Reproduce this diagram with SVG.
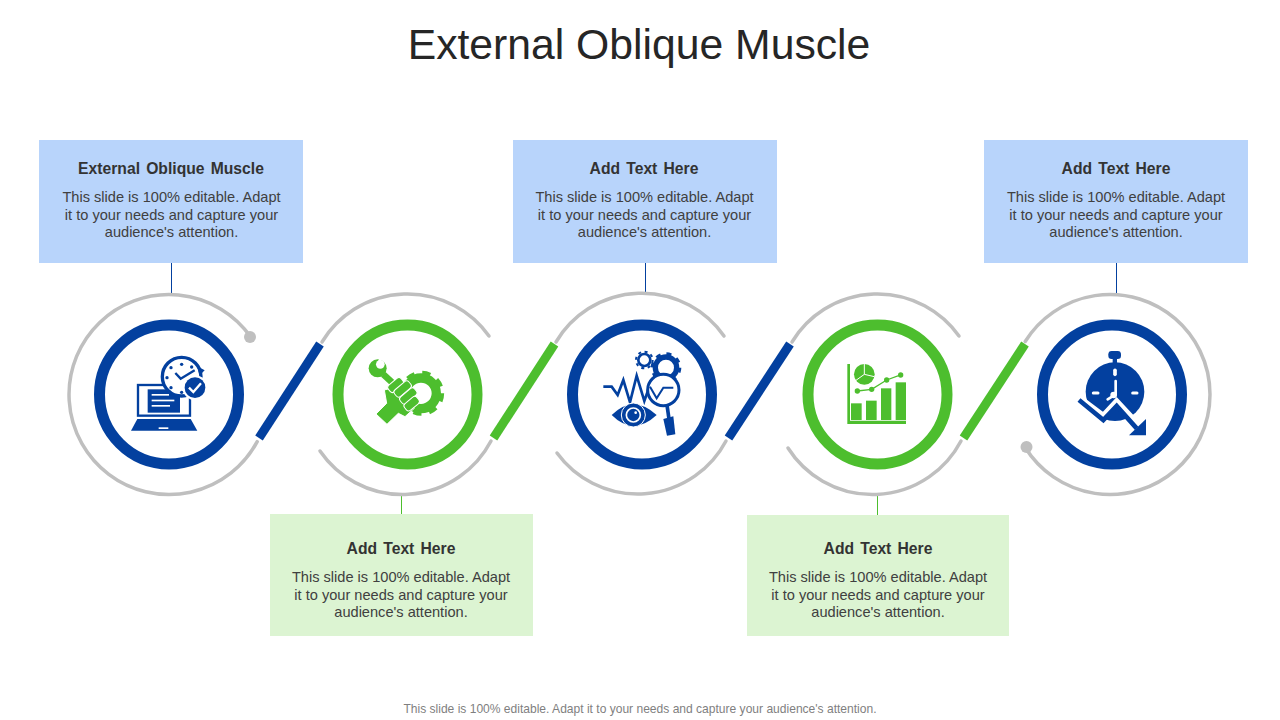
<svg xmlns="http://www.w3.org/2000/svg" width="1280" height="720" viewBox="0 0 1280 720">
<style>
text{font-family:"Liberation Sans",Arial,sans-serif;text-anchor:middle}
.title{font-size:42.700px;fill:#262626}
.h{font-size:15.700px;font-weight:bold;fill:#333;word-spacing:1.800px}
.b{font-size:14.600px;fill:#404040}
.foot{font-size:12.060px;fill:#7f7f7f}
.arc{fill:none;stroke:#bfbfbf;stroke-width:3.500;stroke-linecap:round}
.dot{fill:#bfbfbf}
.lb{fill:#b8d4fb}.lg{fill:#dcf4d2}
.rb{fill:#fff;stroke:#03409f;stroke-width:11}
.rg{fill:#fff;stroke:#4dbe2e;stroke-width:11}
.sb{stroke:#03409f;stroke-width:9;fill:none}
.sg{stroke:#4dbe2e;stroke-width:9;fill:none}
.cb{stroke:#03409f;stroke-width:1;fill:none}
.cg{stroke:#4dbe2e;stroke-width:1;fill:none}
.ib{fill:#03409f}.ig{fill:#4dbe2e}
.w{fill:#fff}
</style>
<text class="title" x="639" y="59">External Oblique Muscle</text>
<g id="connectors">
<path class="cb" d="M171.500 263V293"/><path class="cb" d="M645.500 263V293"/><path class="cb" d="M1116.500 263V293"/>
<path class="cg" d="M401.500 495V514"/><path class="cg" d="M877.500 495V515"/>
<path class="arc" d="M250.800 337A100 100 0 1 0 257.200 441.700"/>
<path class="arc" d="M322 342A100 100 0 0 1 489 336"/>
<path class="arc" d="M320 451A100 100 0 0 0 491 441"/>
<path class="arc" d="M556 342A100 100 0 0 1 724 336"/>
<path class="arc" d="M557 453A100 100 0 0 0 726 441"/>
<path class="arc" d="M792 342A100 100 0 0 1 959 336"/>
<path class="arc" d="M788 448A100 100 0 0 0 961 441"/>
<path class="arc" d="M1025.200 341.500A100 100 0 1 1 1025.200 447.500"/>
<circle class="dot" cx="250" cy="337" r="6"/>
<circle class="dot" cx="1026.500" cy="447" r="6"/>
<path class="sb" d="M320 344L259 438"/>
<path class="sg" d="M554.500 344L493.500 438"/>
<path class="sb" d="M790 344L728.500 438"/>
<path class="sg" d="M1025 344L963.500 438"/>
</g>
<g id="box1"><rect class="lb" x="39" y="140" width="264" height="123"/>
<text class="h" x="171" y="174">External Oblique Muscle</text>
<text class="b" x="171.500" y="202">This slide is 100% editable.  Adapt</text><text class="b" x="171.500" y="220">it to your needs and capture your</text><text class="b" x="171.500" y="237">audience's attention.</text></g>
<g id="box2"><rect class="lg" x="270" y="514" width="263" height="122"/>
<text class="h" x="401" y="554">Add Text Here</text>
<text class="b" x="401" y="582">This slide is 100% editable.  Adapt</text><text class="b" x="401" y="600">it to your needs and capture your</text><text class="b" x="401" y="617">audience's attention.</text></g>
<g id="box3"><rect class="lb" x="513" y="140" width="264" height="123"/>
<text class="h" x="644" y="174">Add Text Here</text>
<text class="b" x="644.500" y="202">This slide is 100% editable.  Adapt</text><text class="b" x="644.500" y="220">it to your needs and capture your</text><text class="b" x="644.500" y="237">audience's attention.</text></g>
<g id="box4"><rect class="lg" x="747" y="515" width="262" height="121"/>
<text class="h" x="878" y="554">Add Text Here</text>
<text class="b" x="878" y="582">This slide is 100% editable.  Adapt</text><text class="b" x="878" y="600">it to your needs and capture your</text><text class="b" x="878" y="617">audience's attention.</text></g>
<g id="box5"><rect class="lb" x="984" y="140" width="264" height="123"/>
<text class="h" x="1116" y="174">Add Text Here</text>
<text class="b" x="1116" y="202">This slide is 100% editable.  Adapt</text><text class="b" x="1116" y="220">it to your needs and capture your</text><text class="b" x="1116" y="237">audience's attention.</text></g>

<g id="node1"><circle class="rb" cx="169" cy="394.500" r="69.500"/>
<g transform="translate(120 345) scale(.3333)">
<rect x="54" y="120" width="156" height="92" fill="none" stroke="#03409f" stroke-width="7"/>
<rect class="ib" x="83" y="133" width="97" height="70"/>
<rect class="w" x="95" y="147" width="52" height="5"/><rect class="w" x="95" y="164" width="68" height="5"/><rect class="w" x="95" y="180" width="55" height="5"/>
<path class="ib" d="M33 257L52 222H212L232 257Z"/><rect class="w" x="116" y="247" width="29" height="5"/>
<circle cx="185" cy="95" r="58" fill="#fff" stroke="#03409f" stroke-width="10"/>
<path class="ib" d="M232 64L254 76L238 92Z"/>
<g class="ib"><circle cx="185" cy="58" r="5"/><circle cx="185" cy="142" r="5"/><circle cx="141" cy="98" r="5"/><circle cx="153" cy="68" r="5"/><circle cx="153" cy="128" r="5"/><circle cx="215" cy="66" r="5"/></g>
<path d="M166 84L182 101L224 76" fill="none" stroke="#03409f" stroke-width="7"/>
<circle cx="225" cy="128" r="37" fill="#fff"/><circle class="ib" cx="225" cy="128" r="31"/>
<path d="M207 128L220 141L243 115" fill="none" stroke="#fff" stroke-width="7"/>
</g></g>

<g id="node2"><circle class="rg" cx="407.500" cy="394.500" r="69.500"/>
<g transform="translate(355 345) scale(.3333)">
<circle cx="198" cy="145" r="46" fill="none" stroke="#4dbe2e" stroke-width="28"/>
<circle cx="200" cy="145" r="60" fill="none" stroke="#4dbe2e" stroke-width="15" stroke-dasharray="24 23.120"/>
<path d="M85 88L125 125" stroke="#4dbe2e" stroke-width="20"/>
<circle class="ig" cx="68" cy="70" r="27"/>
<circle class="w" cx="76" cy="58" r="13"/><path class="w" d="M68 52L84 44L100 30L80 25Z"/>
<path class="ig" stroke="#fff" stroke-width="3" d="M88 135L125 125L178 190L150 215L130 205L96 238L63 207L95 175Z"/>
<g fill="#4dbe2e" stroke="#fff" stroke-width="3">
<rect x="97" y="107" width="50" height="26" rx="9" transform="rotate(-40 122 120)"/>
<rect x="115" y="119" width="56" height="26" rx="9" transform="rotate(-40 143 132)"/>
<rect x="132" y="140" width="56" height="26" rx="9" transform="rotate(-40 160 153)"/>
<rect x="146" y="163" width="48" height="26" rx="9" transform="rotate(-40 170 176)"/>
</g>
</g></g>

<g id="node3"><circle class="rb" cx="642" cy="394.500" r="69.500"/>
<g transform="translate(595 345) scale(.3333)">
<circle cx="148" cy="45" r="18" fill="none" stroke="#03409f" stroke-width="8"/>
<circle cx="148" cy="45" r="25" fill="none" stroke="#03409f" stroke-width="6" stroke-dasharray="9 10.630"/>
<circle cx="213" cy="68" r="32" fill="none" stroke="#03409f" stroke-width="16"/>
<circle cx="213" cy="68" r="42" fill="none" stroke="#03409f" stroke-width="8" stroke-dasharray="15 18"/>
<path d="M25 125H50L68 150L85 105L105 172L125 92L148 168L165 120" fill="none" stroke="#03409f" stroke-width="8"/>
<circle cx="205" cy="135" r="47" fill="#fff" stroke="#03409f" stroke-width="9"/>
<path d="M165 125L185 160L205 128H235" fill="none" stroke="#03409f" stroke-width="6"/>
<path d="M216 180L222 222" stroke="#03409f" stroke-width="11"/>
<path class="ib" d="M205 222L235 214L241 268L216 272Z"/>
<path class="ib" d="M50 210Q115 145 185 210Q115 275 50 210Z"/>
<circle cx="115" cy="210" r="36" fill="#03409f" stroke="#fff" stroke-width="3"/>
<circle cx="115" cy="210" r="21" fill="#03409f" stroke="#fff" stroke-width="5"/><circle class="w" cx="122" cy="203" r="4"/>
</g></g>

<g id="node4"><circle class="rg" cx="877.500" cy="394.500" r="69.500"/>
<g transform="translate(830 345) scale(.3333)">
<path class="ig" d="M52 57H60V227H228V237H52Z"/>
<rect class="ig" x="63" y="175" width="32" height="50"/><rect class="ig" x="108" y="167" width="32" height="58"/><rect class="ig" x="153" y="130" width="31" height="95"/><rect class="ig" x="197" y="112" width="31" height="113"/>
<path d="M82 138L125 133L170 105L212 90" fill="none" stroke="#4dbe2e" stroke-width="4"/>
<g class="ig"><circle cx="82" cy="138" r="8"/><circle cx="125" cy="133" r="8"/><circle cx="170" cy="105" r="8"/><circle cx="212" cy="90" r="8"/><circle cx="103" cy="88" r="31"/></g>
<path d="M103 57V88L133 95M103 88L78 106" fill="none" stroke="#fff" stroke-width="3"/>
</g></g>

<g id="node5"><circle class="rb" cx="1112" cy="394.500" r="69.500"/>
<g transform="translate(1065 345) scale(.3333)">
<rect class="ib" x="130" y="18" width="38" height="24" rx="10"/><rect class="ib" x="143" y="38" width="13" height="20"/>
<circle class="ib" cx="150" cy="140" r="88"/>
<g stroke="#fff" stroke-linecap="round" fill="none">
<path d="M150 76V88" stroke-width="11"/><path d="M85 144H99" stroke-width="9"/><path d="M203 144H216" stroke-width="9"/>
<path d="M152 108V148L128 163" stroke-width="8"/>
</g>
<circle class="w" cx="146" cy="150" r="10"/>
<path d="M42 160L115 215L155 172L218 240" fill="none" stroke="#fff" stroke-width="22"/>
<path d="M42 165L115 225L155 183L215 250" fill="none" stroke="#03409f" stroke-width="14"/>
<path class="ib" d="M243 222V271H192Z"/>
</g></g>

<text class="foot" x="640" y="713">This slide is 100% editable. Adapt it to your needs and capture your audience's attention.</text>
</svg>
